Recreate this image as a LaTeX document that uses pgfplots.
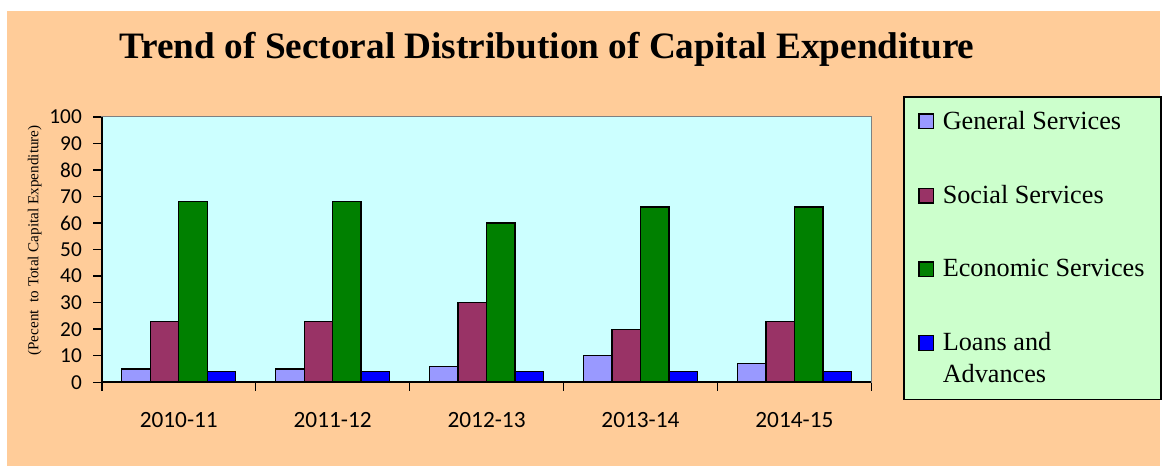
\documentclass[border=0pt]{standalone}
\usepackage{fontspec}
\setmainfont{Liberation Serif}
\newfontfamily\calibri{Carlito}
\usepackage{pgfplots}
\pgfplotsset{compat=1.18}

\definecolor{peach}{HTML}{FFCC99}
\definecolor{plotbg}{HTML}{CCFFFF}
\definecolor{legbg}{HTML}{CCFFCC}
\definecolor{cgen}{HTML}{9999FF}
\definecolor{csoc}{HTML}{993366}
\definecolor{ceco}{HTML}{008000}
\definecolor{cloan}{HTML}{0000FF}

% legend marker next to the first line of a two-line entry
\pgfplotsset{loanlegend/.style={legend image code/.code={%
  \path[draw=none,fill=none] (0pt,-18pt) rectangle (11pt,18pt);
  \draw[##1] (0pt,6.5pt) rectangle (11pt,17.5pt);}}}

\begin{document}
\begin{tikzpicture}
% page background, in pixel units of the reference
\begin{scope}[x=0.75pt,y=-0.75pt]
  \fill[white] (0,0) rectangle (1162,467);
  \fill[peach] (7,11) rectangle (1162,467);
  \node[anchor=base, font=\bfseries\fontsize{28}{32}\selectfont] at (548,59)
    {Trend of Sectoral Distribution of Capital Expenditure};
\end{scope}

\begin{axis}[
  at={(76.5pt,-287.25pt)}, anchor=south west,
  scale only axis,
  width=578.25pt, height=199.5pt,
  xmin=-0.5, xmax=4.5,
  ymin=0, ymax=100,
  ytick={0,10,...,100},
  xtick={-0.5,0.5,...,4.5},
  xticklabels={},
  extra x ticks={0,1,2,3,4},
  extra x tick labels={2010-11,2011-12,2012-13,2013-14,2014-15},
  extra x tick style={major tick length=0pt,
    xticklabel style={yshift=-19pt}},
  xtick pos=bottom, ytick pos=left,
  tick align=outside,
  major tick length=6.5pt,
  tick style={black, line width=1.1pt},
  /pgf/number format/assume math mode=true,
  yticklabel style={font=\calibri\fontsize{16}{19}\selectfont, xshift=-5pt},
  xticklabel style={font=\calibri\fontsize{17.5}{21}\selectfont},
  ylabel={(Pecent\ \ to Total Capital Expenditure)},
  ylabel style={at={(axis description cs:-0.087,0.534)}, anchor=center,
    font=\fontsize{11.4}{13}\selectfont},
  axis background/.style={fill=plotbg},
  axis line style={draw=gray, line width=1pt},
  ybar=0pt, bar width=21.4pt,
  legend cell align=left,
  legend image code/.code={\draw[#1] (0pt,-5.5pt) rectangle (11pt,5.5pt);},
  legend style={at={(1.0415,1.079)}, anchor=north west,
    fill=legbg, draw=black, line width=1.4pt,
    font=\fontsize{19.7}{24}\selectfont,
    cells={align=left},
    row sep=36.5pt, column sep=4.5pt, inner xsep=10.5pt, inner ysep=9pt},
  after end axis/.code={
    \draw[black, line width=1.4pt] (rel axis cs:0,1) -- (rel axis cs:0,0) -- (rel axis cs:1,0);
  },
]
\addplot[fill=cgen, draw=black, line width=1pt] coordinates {(0,5) (1,5) (2,6) (3,10) (4,7)};
\addlegendentry{General Services}
\addplot[fill=csoc, draw=black, line width=1pt] coordinates {(0,23) (1,23) (2,30) (3,20) (4,23)};
\addlegendentry{Social Services}
\addplot[fill=ceco, draw=black, line width=1pt] coordinates {(0,68) (1,68) (2,60) (3,66) (4,66)};
\addlegendentry{Economic Services}
\addplot[fill=cloan, draw=black, line width=1pt, loanlegend]
  coordinates {(0,4) (1,4) (2,4) (3,4) (4,4)};
\addlegendentry{Loans and\\Advances}
\end{axis}
\end{tikzpicture}
\end{document}
